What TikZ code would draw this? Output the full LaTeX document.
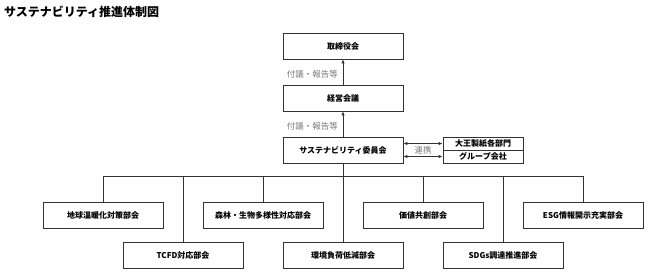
\documentclass[tikz,border=0pt]{standalone}
\usepackage{fontspec}
\setmainfont{Noto Sans CJK JP}
\usetikzlibrary{arrows.meta}
\definecolor{linegray}{HTML}{333333}
\definecolor{labelgray}{HTML}{7A7A7A}
\begin{document}
\begin{tikzpicture}[x=1pt,y=-1pt,
  box/.style={draw=linegray, line width=0.8pt, minimum width=120pt, minimum height=26pt, inner sep=0pt, font=\bfseries\fontsize{8}{9}\selectfont},
  smallbox/.style={draw=linegray, line width=0.8pt, minimum width=80pt, minimum height=13pt, inner sep=0pt, font=\bfseries\fontsize{8}{9}\selectfont},
  conn/.style={draw=linegray, line width=0.8pt},
  arr/.style={conn, -{Latex[length=4pt,width=3.5pt]}},
  darr/.style={conn, {Latex[length=4pt,width=3.5pt]}-{Latex[length=4pt,width=3.5pt]}},
  lbl/.style={text=labelgray, inner sep=0pt, font=\fontsize{8.5}{10}\selectfont},
  ttl/.style={inner sep=0pt, anchor=west, font=\bfseries\fontsize{12}{14}\selectfont}]
\useasboundingbox (0,0) rectangle (648,273);
\node[ttl] (title) at (4,12) {サステナビリティ推進体制図};
\node[box] (board) at (343,46) {取締役会};
\node[box] (mgmt) at (343,98) {経営会議};
\node[box] (comm) at (343,150) {サステナビリティ委員会};
\node[smallbox] (dept) at (483,143.5) {大王製紙各部門};
\node[smallbox] (group) at (483,156.5) {グループ会社};
\node[box] (chikyu) at (103,215) {地球温暖化対策部会};
\node[box] (shinrin) at (263,215) {森林・生物多様性対応部会};
\node[box] (kachi) at (423,215) {価値共創部会};
\node[box] (esg) at (583,215) {ESG情報開示充実部会};
\node[box] (tcfd) at (183,255) {TCFD対応部会};
\node[box] (kankyo) at (343,255) {環境負荷低減部会};
\node[box] (sdgs) at (503,255) {SDGs調達推進部会};
\draw[arr] (mgmt.north) -- (board.south);
\draw[arr] (comm.north) -- (mgmt.south);
\node[lbl, anchor=east] (l1) at (338,74) {付議・報告等};
\node[lbl, anchor=east] (l2) at (338,126) {付議・報告等};
\draw[darr] (comm.east |- dept.west) -- (dept.west);
\draw[darr] (comm.east |- group.west) -- (group.west);
\node[lbl] (renkei) at (423,150.5) {連携};
\coordinate (bus) at (343,176);
\draw[conn] (comm.south) -- (kankyo.north);
\draw[conn] (chikyu.north) -- (chikyu.north |- bus) -| (esg.north);
\draw[conn] (tcfd.north) -- (tcfd.north |- bus);
\draw[conn] (shinrin.north) -- (shinrin.north |- bus);
\draw[conn] (kachi.north) -- (kachi.north |- bus);
\draw[conn] (sdgs.north) -- (sdgs.north |- bus);
\end{tikzpicture}
\end{document}
